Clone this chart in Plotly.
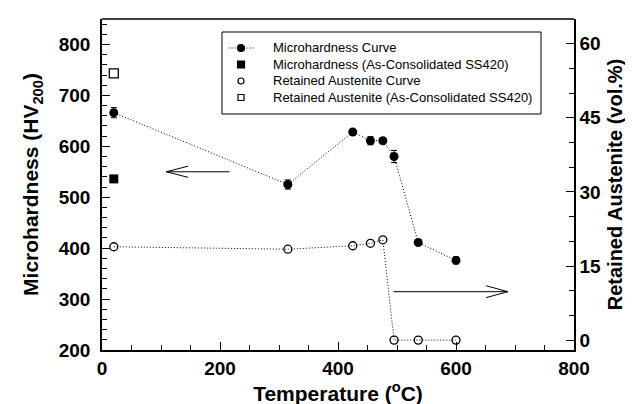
import plotly.graph_objects as go

# ---- data ----
temp_c = [20, 315, 425, 455, 476, 495, 536, 600]
hardness_hv = [666, 525, 628, 611, 611, 580, 411, 376]
hardness_err = [10, 9, 4, 8, 5, 12, 4, 7]
austenite_pct = [18.9, 18.4, 19.1, 19.6, 20.3, 0, 0, 0]
asc_temp = [20]
asc_hardness = [536]
asc_austenite = [54]

series_names = [
    "Microhardness Curve",
    "Microhardness (As-Consolidated SS420)",
    "Retained Austenite Curve",
    "Retained Austenite (As-Consolidated SS420)",
]

x_ticks = [0, 200, 400, 600, 800]
y_ticks = [200, 300, 400, 500, 600, 700, 800]
y2_ticks = [0, 15, 30, 45, 60]

FONT = "Liberation Sans, Arial, sans-serif"
BLACK = "black"
DOT = "1px,2px"

fig = go.Figure()

fig.add_trace(go.Scatter(
    x=temp_c, y=hardness_hv, mode="lines+markers", name=series_names[0],
    line=dict(color=BLACK, width=1, dash=DOT),
    marker=dict(symbol="circle", size=9, color=BLACK),
    error_y=dict(type="data", array=hardness_err, color=BLACK, thickness=1, width=3),
))
fig.add_trace(go.Scatter(
    x=asc_temp, y=asc_hardness, mode="markers", name=series_names[1],
    marker=dict(symbol="square", size=9, color=BLACK),
))
fig.add_trace(go.Scatter(
    x=temp_c, y=austenite_pct, mode="lines+markers", yaxis="y2", name=series_names[2],
    line=dict(color=BLACK, width=1, dash=DOT),
    marker=dict(symbol="circle-open", size=8, color=BLACK, line=dict(width=1.3)),
))
fig.add_trace(go.Scatter(
    x=asc_temp, y=asc_austenite, mode="markers", yaxis="y2", name=series_names[3],
    marker=dict(symbol="square-open", size=9, color=BLACK, line=dict(width=1.3)),
))

shapes = []
annotations = []

# arrows pointing to the relevant axis
def arrow(x0, x1, y, yref, bx, dy):
    for (ax, ay, bx_, by) in [(x0, y, x1, y), (x1, y, bx, y + dy), (x1, y, bx, y - dy)]:
        shapes.append(dict(type="line", xref="x", yref=yref, x0=ax, x1=bx_, y0=ay, y1=by,
                           line=dict(color=BLACK, width=1)))

arrow(216, 109, 550, "y", 146, 11)
arrow(494, 688, 9.8, "y2", 651, 1.2)

# hand-built legend (paper coordinates)
LX0, LX1, LY0, LY1 = 0.2542, 0.9301, 0.713, 0.9607
shapes.append(dict(type="rect", xref="paper", yref="paper", x0=LX0, x1=LX1, y0=LY0, y1=LY1,
                   line=dict(color=BLACK, width=1), fillcolor="white", layer="above"))
row_y = [0.9124, 0.8625, 0.8127, 0.7628]
sym_x = 0.2945
text_x = 0.358
shapes.append(dict(type="line", xref="paper", yref="paper", x0=0.268, x1=0.322,
                   y0=row_y[0], y1=row_y[0], line=dict(color=BLACK, width=1, dash=DOT),
                   layer="above"))
def sym(kind, y, d, filled):
    shapes.append(dict(type=kind, xref="paper", yref="paper", xsizemode="pixel",
                       ysizemode="pixel", xanchor=sym_x, yanchor=y,
                       x0=-d / 2, x1=d / 2, y0=-d / 2, y1=d / 2,
                       line=dict(color=BLACK, width=1.2),
                       fillcolor=BLACK if filled else "white", layer="above"))
sym("circle", row_y[0], 7, True)
sym("rect", row_y[1], 7, True)
sym("circle", row_y[2], 6, False)
sym("rect", row_y[3], 6, False)
for name, y in zip(series_names, row_y):
    annotations.append(dict(text=name, xref="paper", yref="paper", x=text_x, y=y,
                            xanchor="left", yanchor="middle", showarrow=False,
                            font=dict(family=FONT, size=13, color=BLACK)))

axis_common = dict(
    showline=True, linecolor=BLACK, linewidth=1.5, mirror=False,
    ticks="inside", ticklen=8, tickwidth=1, tickcolor=BLACK,
    showgrid=False, zeroline=False, automargin=False,
    tickfont=dict(family=FONT, size=19, color=BLACK, weight="bold"),
)
title_font = dict(family=FONT, size=20, color=BLACK, weight="bold")
title_font_l = dict(family=FONT, size=21, color=BLACK, weight="bold")

fig.update_layout(
    width=633, height=404,
    margin=dict(l=94, r=67, t=11, b=62),
    paper_bgcolor="white", plot_bgcolor="white",
    font=dict(family=FONT, color=BLACK),
    showlegend=False,
    xaxis=dict(
        range=[0, 800], tickvals=x_ticks,
        minor=dict(dtick=50, ticks="inside", ticklen=5, tickcolor=BLACK),
        title=dict(text="Temperature (<sup>o</sup>C)", standoff=9, font=title_font_l),
        **axis_common,
    ),
    yaxis=dict(
        range=[200, 850], tickvals=y_ticks, ticklabelstandoff=6,
        minor=dict(dtick=20, ticks="inside", ticklen=5, tickcolor=BLACK),
        title=dict(text="Microhardness (HV<sub>200</sub>)", standoff=14, font=title_font_l),
        **axis_common,
    ),
    yaxis2=dict(
        overlaying="y", side="right", range=[-2, 65], tickvals=y2_ticks,
        minor=dict(dtick=5, ticks="inside", ticklen=5, tickcolor=BLACK),
        title=dict(text="Retained Austenite (vol.%)", standoff=8, font=title_font),
        **axis_common,
    ),
    shapes=shapes + [dict(type="line", xref="paper", yref="paper", x0=0, x1=1, y0=1, y1=1,
                          line=dict(color=BLACK, width=1.5))],
    annotations=annotations,
)

fig.write_html("out.html")
